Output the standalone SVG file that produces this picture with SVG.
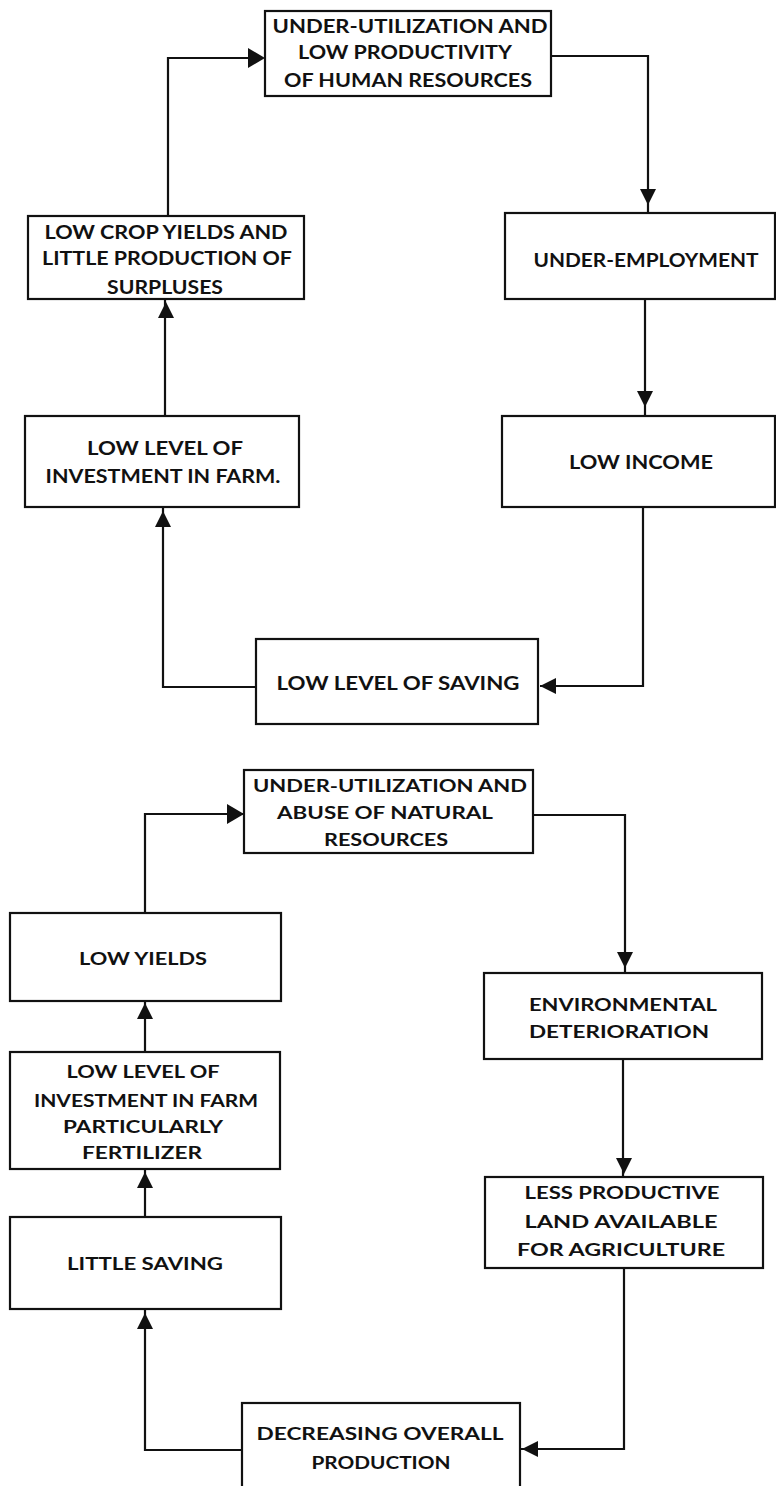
<svg xmlns="http://www.w3.org/2000/svg" xmlns:xlink="http://www.w3.org/1999/xlink" width="776" height="1486" viewBox="0 0 776 1486">
<style>
.box{fill:#fff;stroke:#111;stroke-width:2.2}
.ln{fill:none;stroke:#111;stroke-width:2.2}
.t1{font-family:Lato,"Liberation Sans",sans-serif;font-weight:bold;font-size:18px;fill:#111;text-anchor:middle}
.t2{font-family:Lato,"Liberation Sans",sans-serif;font-weight:bold;font-size:16.5px;fill:#111;text-anchor:middle}
.ah{fill:#111}
</style>
<defs>
<path id="ah" d="M0,0 L-16,-8 L-16,8 Z"/>
<path id="ahb" d="M0,0 L-17,-10 L-17,10 Z"/>
</defs>
<rect width="776" height="1486" fill="#fff"/>

<g id="connectors">
<path class="ln" d="M168,216 V58 H262"/>
<path class="ln" d="M551,56 H648 V213"/>
<path class="ln" d="M645,299 V415"/>
<path class="ln" d="M643,507 V686 H540"/>
<path class="ln" d="M256,687 H163 V507"/>
<path class="ln" d="M165,416 V299"/>
<path class="ln" d="M145,913 V814 H243"/>
<path class="ln" d="M525,815 H625 V973"/>
<path class="ln" d="M623,1059 V1177"/>
<path class="ln" d="M624,1268 V1449 H521"/>
<path class="ln" d="M242,1450 H145 V1309"/>
<path class="ln" d="M145,1217 V1169"/>
<path class="ln" d="M145,1052 V1001"/>
<use class="ah" xlink:href="#ahb" transform="translate(265,58)"/>
<use class="ah" xlink:href="#ah" transform="translate(648,205) rotate(90)"/>
<use class="ah" xlink:href="#ah" transform="translate(645,407) rotate(90)"/>
<use class="ah" xlink:href="#ah" transform="translate(540,686) rotate(180)"/>
<use class="ah" xlink:href="#ah" transform="translate(163,511) rotate(-90)"/>
<use class="ah" xlink:href="#ah" transform="translate(166,302) rotate(-90)"/>
<use class="ah" xlink:href="#ahb" transform="translate(244,814)"/>
<use class="ah" xlink:href="#ah" transform="translate(625,968) rotate(90)"/>
<use class="ah" xlink:href="#ah" transform="translate(145,1003) rotate(-90)"/>
<use class="ah" xlink:href="#ah" transform="translate(624,1174) rotate(90)"/>
<use class="ah" xlink:href="#ah" transform="translate(145,1172) rotate(-90)"/>
<use class="ah" xlink:href="#ah" transform="translate(145,1313) rotate(-90)"/>
<use class="ah" xlink:href="#ah" transform="translate(522,1449) rotate(180)"/>
</g>

<g id="n1">
<rect class="box" x="265" y="11" width="286" height="85"/>
<text class="t1" x="410" y="33" textLength="275" lengthAdjust="spacingAndGlyphs">UNDER-UTILIZATION AND</text>
<text class="t1" x="405" y="59" textLength="214" lengthAdjust="spacingAndGlyphs">LOW PRODUCTIVITY</text>
<text class="t1" x="408" y="87" textLength="248" lengthAdjust="spacingAndGlyphs">OF HUMAN RESOURCES</text>
</g>
<g id="n2">
<rect class="box" x="505" y="213" width="270" height="86"/>
<text class="t1" x="646" y="267" textLength="225" lengthAdjust="spacingAndGlyphs">UNDER-EMPLOYMENT</text>
</g>
<g id="n3">
<rect class="box" x="502" y="416" width="273" height="91"/>
<text class="t1" x="641" y="469" textLength="144" lengthAdjust="spacingAndGlyphs">LOW INCOME</text>
</g>
<g id="n4">
<rect class="box" x="256" y="639" width="282" height="85"/>
<text class="t1" x="398" y="690" textLength="243" lengthAdjust="spacingAndGlyphs">LOW LEVEL OF SAVING</text>
</g>
<g id="n5">
<rect class="box" x="25" y="416" width="274" height="91"/>
<text class="t1" x="165" y="455" textLength="156" lengthAdjust="spacingAndGlyphs">LOW LEVEL OF</text>
<text class="t1" x="163" y="483" textLength="235" lengthAdjust="spacingAndGlyphs">INVESTMENT IN FARM.</text>
</g>
<g id="n6">
<rect class="box" x="28" y="216" width="276" height="83"/>
<text class="t1" x="166" y="239" textLength="243" lengthAdjust="spacingAndGlyphs">LOW CROP YIELDS AND</text>
<text class="t1" x="167" y="265" textLength="250" lengthAdjust="spacingAndGlyphs">LITTLE PRODUCTION OF</text>
<text class="t1" x="165" y="294" textLength="116" lengthAdjust="spacingAndGlyphs">SURPLUSES</text>
</g>

<g id="m1">
<rect class="box" x="244" y="770" width="289" height="83"/>
<text class="t2" x="390" y="792" textLength="274" lengthAdjust="spacingAndGlyphs">UNDER-UTILIZATION AND</text>
<text class="t2" x="385" y="819" textLength="216" lengthAdjust="spacingAndGlyphs">ABUSE OF NATURAL</text>
<text class="t2" x="386" y="846" textLength="124" lengthAdjust="spacingAndGlyphs">RESOURCES</text>
</g>
<g id="m2">
<rect class="box" x="484" y="973" width="278" height="86"/>
<text class="t2" x="623" y="1011" textLength="188" lengthAdjust="spacingAndGlyphs">ENVIRONMENTAL</text>
<text class="t2" x="619" y="1038" textLength="180" lengthAdjust="spacingAndGlyphs">DETERIORATION</text>
</g>
<g id="m3">
<rect class="box" x="485" y="1177" width="278" height="91"/>
<text class="t2" x="622" y="1199" textLength="195" lengthAdjust="spacingAndGlyphs">LESS PRODUCTIVE</text>
<text class="t2" x="621" y="1228" textLength="193" lengthAdjust="spacingAndGlyphs">LAND AVAILABLE</text>
<text class="t2" x="621" y="1256" textLength="208" lengthAdjust="spacingAndGlyphs">FOR AGRICULTURE</text>
</g>
<g id="m4">
<rect class="box" x="242" y="1403" width="278" height="95"/>
<text class="t2" x="380" y="1440" textLength="247" lengthAdjust="spacingAndGlyphs">DECREASING OVERALL</text>
<text class="t2" x="381" y="1469" textLength="139" lengthAdjust="spacingAndGlyphs">PRODUCTION</text>
</g>
<g id="m5">
<rect class="box" x="10" y="1217" width="271" height="92"/>
<text class="t2" x="145" y="1270" textLength="156" lengthAdjust="spacingAndGlyphs">LITTLE SAVING</text>
</g>
<g id="m6">
<rect class="box" x="10" y="1052" width="270" height="117"/>
<text class="t2" x="143" y="1078" textLength="153" lengthAdjust="spacingAndGlyphs">LOW LEVEL OF</text>
<text class="t2" x="146" y="1107" textLength="224" lengthAdjust="spacingAndGlyphs">INVESTMENT IN FARM</text>
<text class="t2" x="143" y="1133" textLength="160" lengthAdjust="spacingAndGlyphs">PARTICULARLY</text>
<text class="t2" x="142" y="1159" textLength="120" lengthAdjust="spacingAndGlyphs">FERTILIZER</text>
</g>
<g id="m7">
<rect class="box" x="10" y="913" width="271" height="88"/>
<text class="t2" x="143" y="965" textLength="128" lengthAdjust="spacingAndGlyphs">LOW YIELDS</text>
</g>
</svg>
